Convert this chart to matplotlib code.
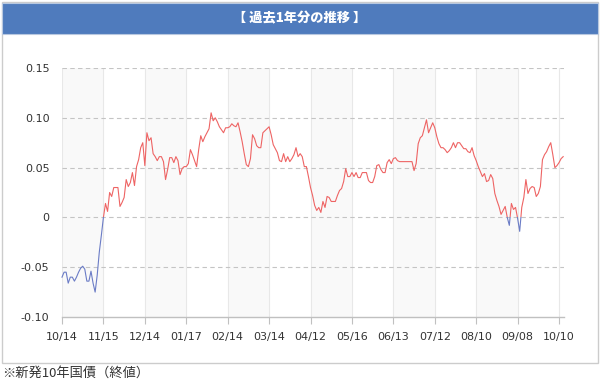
import matplotlib
matplotlib.use("Agg")
import matplotlib.pyplot as plt
from matplotlib.patches import Rectangle

# 新発10年国債 終値 (過去1年, 営業日ごと)
yields = [
    -0.060, -0.055, -0.055, -0.066, -0.060, -0.060, -0.064, -0.060, -0.055, -0.051,
    -0.049, -0.052, -0.064, -0.064, -0.054, -0.066, -0.075, -0.058, -0.035, -0.018,
    0.000, 0.014, 0.006, 0.025, 0.021, 0.030, 0.030, 0.030, 0.011, 0.015,
    0.020, 0.038, 0.031, 0.035, 0.045, 0.032, 0.051, 0.058, 0.070, 0.075,
    0.052, 0.085, 0.077, 0.080, 0.064, 0.061, 0.057, 0.061, 0.061, 0.056,
    0.038, 0.048, 0.060, 0.060, 0.055, 0.061, 0.057, 0.043, 0.049, 0.051,
    0.051, 0.054, 0.068, 0.063, 0.057, 0.051, 0.068, 0.082, 0.076, 0.081,
    0.085, 0.089, 0.105, 0.097, 0.100, 0.096, 0.091, 0.088, 0.085, 0.090,
    0.090, 0.091, 0.094, 0.092, 0.091, 0.095, 0.086, 0.076, 0.064, 0.053,
    0.051, 0.059, 0.083, 0.079, 0.072, 0.070, 0.070, 0.085, 0.087, 0.089,
    0.091, 0.083, 0.073, 0.069, 0.065, 0.057, 0.056, 0.064, 0.056, 0.061,
    0.056, 0.059, 0.063, 0.070, 0.061, 0.064, 0.061, 0.051, 0.051, 0.041,
    0.030, 0.022, 0.012, 0.007, 0.010, 0.005, 0.016, 0.010, 0.021, 0.020,
    0.016, 0.016, 0.016, 0.022, 0.027, 0.029, 0.036, 0.049, 0.041, 0.041,
    0.045, 0.041, 0.045, 0.040, 0.040, 0.045, 0.045, 0.045, 0.037, 0.035,
    0.035, 0.041, 0.052, 0.053, 0.048, 0.045, 0.045, 0.055, 0.058, 0.054,
    0.059, 0.060, 0.057, 0.056, 0.056, 0.056, 0.056, 0.056, 0.056, 0.056,
    0.047, 0.054, 0.074, 0.080, 0.082, 0.090, 0.098, 0.085, 0.090, 0.095,
    0.090, 0.081, 0.074, 0.070, 0.070, 0.068, 0.065, 0.067, 0.070, 0.075,
    0.070, 0.075, 0.075, 0.072, 0.069, 0.069, 0.066, 0.065, 0.070, 0.062,
    0.057, 0.051, 0.046, 0.041, 0.044, 0.036, 0.037, 0.043, 0.039, 0.024,
    0.017, 0.011, 0.003, 0.007, 0.011, 0.000, -0.008, 0.014, 0.008, 0.010,
    -0.001, -0.014, 0.010, 0.020, 0.038, 0.024, 0.029, 0.031, 0.030, 0.021,
    0.024, 0.031, 0.058, 0.063, 0.066, 0.071, 0.075, 0.063, 0.050, 0.052,
    0.055, 0.059, 0.061,
]
tick_labels = ["10/14", "11/15", "12/14", "01/17", "02/14", "03/14", "04/12",
               "05/16", "06/13", "07/12", "08/10", "09/08", "10/10"]
tick_step = 20  # 20営業日ごと
y_ticks = [-0.10, -0.05, 0, 0.05, 0.10, 0.15]
y_tick_labels = ["-0.10", "-0.05", "0", "0.05", "0.10", "0.15"]

plt.rcParams["font.family"] = ["DejaVu Sans", "Noto Sans CJK JP"]

fig = plt.figure(figsize=(6, 3.82), dpi=100)

# 外枠とタイトルバー
fig.patches.append(Rectangle((2 / 600, 1 - 363 / 382), 596 / 600, 361 / 382,
                             transform=fig.transFigure, facecolor="white",
                             edgecolor="#cccccc", linewidth=1, zorder=0))
fig.patches.append(Rectangle((2 / 600, 1 - 34 / 382), 596 / 600, 31 / 382,
                             transform=fig.transFigure, facecolor="#4f7bbd",
                             edgecolor="#b8c8e0", linewidth=0.8, zorder=1))
fig.text(0.5, 1 - 18 / 382, "【 過去1年分の推移 】", color="white",
         fontsize=9.5, fontweight="heavy", ha="center", va="center",
         family=["Noto Sans CJK JP"])
fig.text(2 / 600, 1 - 373 / 382, "※新発10年国債（終値）", color="#333333",
         fontsize=9.5, ha="left", va="center", family=["Noto Sans CJK JP"])

ax = fig.add_axes([62 / 600, 1 - 317 / 382, 502 / 600, 249 / 382])
ax.set_zorder(5)
ax.patch.set_alpha(0)

x = list(range(len(yields)))
tick_pos = [i * tick_step for i in range(len(tick_labels))]

# 交互の背景帯
for k in range(0, len(tick_pos) - 1, 2):
    ax.axvspan(tick_pos[k], tick_pos[k + 1], color="#f9f9f9", lw=0, zorder=0)
for p in tick_pos:
    ax.axvline(p, color="#e8e8e8", lw=0.8, zorder=1)
for v in y_ticks[1:]:
    ax.axhline(v, color="#c4c4c4", lw=0.8, ls=(0, (4, 3)), zorder=1)

# 0以上は赤、0未満は青
red_line, = ax.plot(x, yields, color="#ee6464", lw=0.8, zorder=3)
blue_line, = ax.plot(x, yields, color="#6b7cc6", lw=0.8, zorder=3)
red_line.set_clip_path(Rectangle((-10, 0), 300, 1, transform=ax.transData))
blue_line.set_clip_path(Rectangle((-10, -1), 300, 1, transform=ax.transData))

ax.set_xlim(0, 242.4)
ax.set_ylim(-0.10, 0.15)
ax.set_xticks(tick_pos)
ax.set_xticklabels(tick_labels)
ax.set_yticks(y_ticks)
ax.set_yticklabels(y_tick_labels)
ax.tick_params(axis="x", length=5, width=0.8, color="#c0c0c0",
               labelsize=8, labelcolor="#333333", pad=6)
ax.tick_params(axis="y", length=0, labelsize=8, labelcolor="#333333", pad=9)
for s in ["top", "right", "left"]:
    ax.spines[s].set_visible(False)
ax.spines["bottom"].set_color("#c0c0c0")
ax.spines["bottom"].set_linewidth(1)

fig.savefig("out.png", dpi=100)
